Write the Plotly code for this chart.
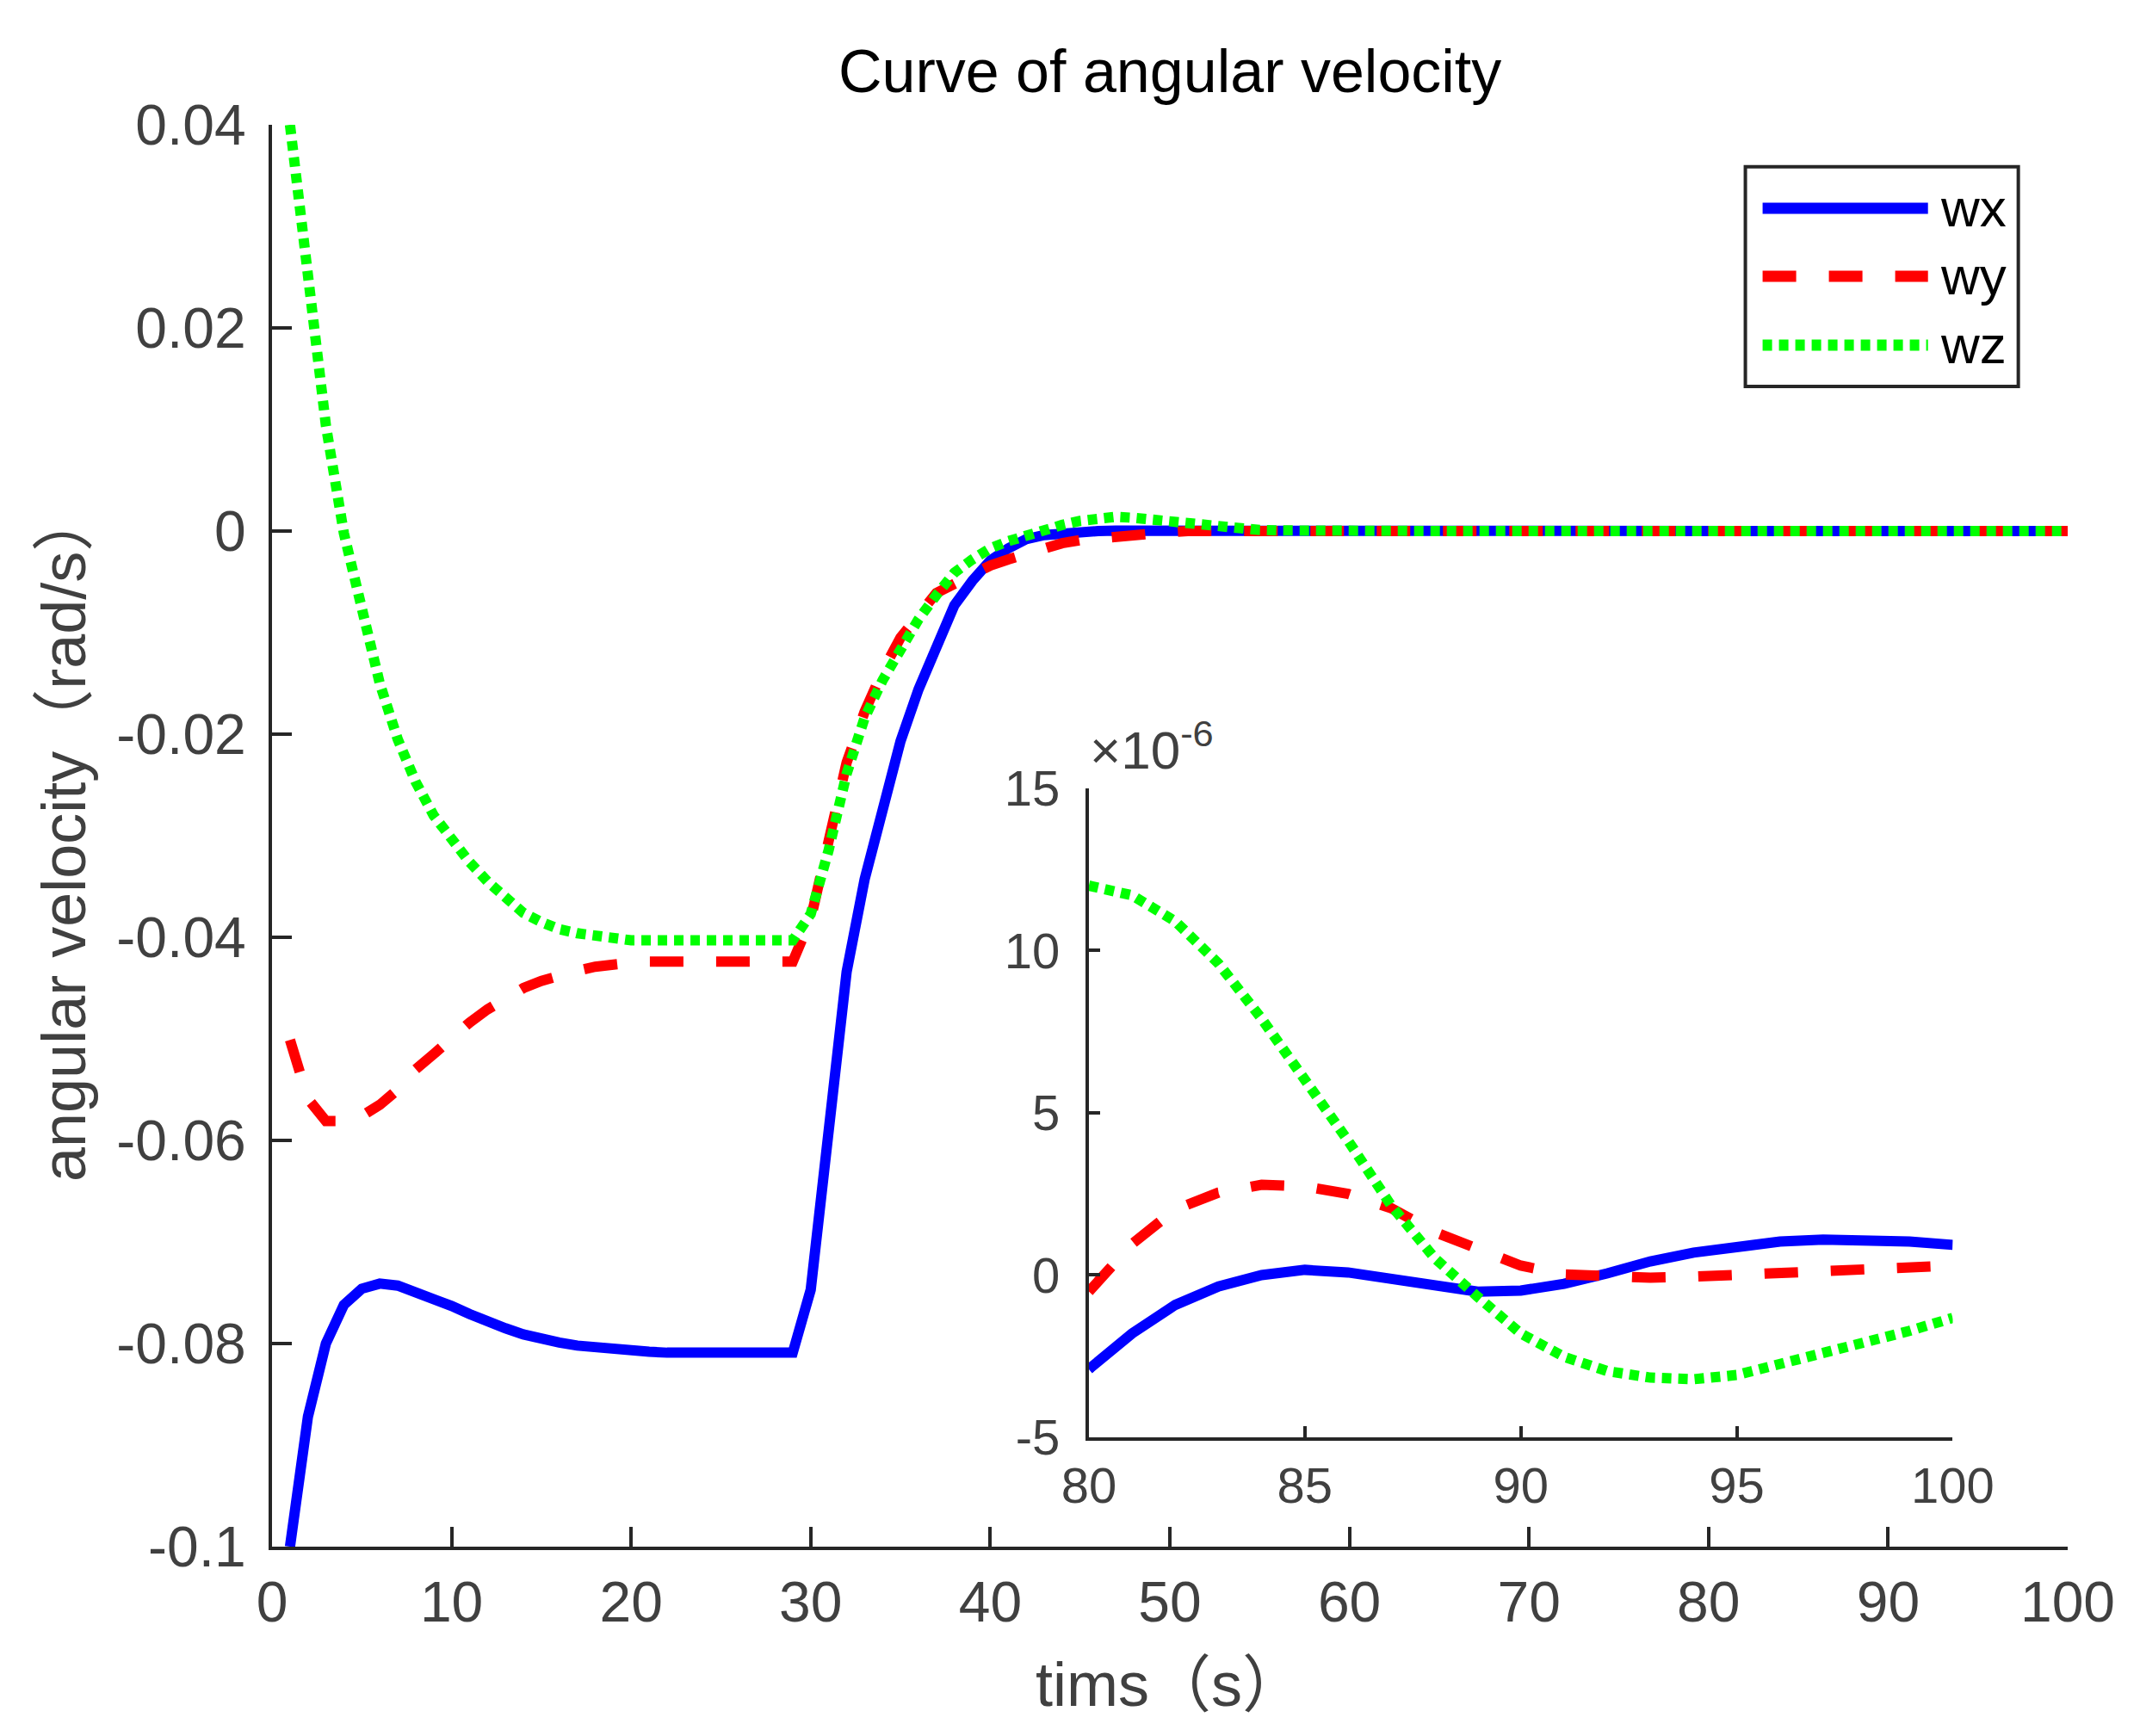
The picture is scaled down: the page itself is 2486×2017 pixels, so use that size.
import plotly.graph_objects as go

# time in seconds, one sample per second
TIME = list(range(1, 101))

# angular velocity (rad/s) for t = 1..79
WX_EARLY = [-0.1000, -0.0872, -0.0800, -0.0762, -0.0746, -0.0741, -0.0743, -0.0749, -0.0756, -0.0763,
            -0.0771, -0.0779, -0.0785, -0.0791, -0.0796, -0.0799, -0.0802, -0.0804, -0.0806, -0.0808,
            -0.0808, -0.0809, -0.0809, -0.0809, -0.0809, -0.0809, -0.0809, -0.0809, -0.0809, -0.0747,
            -0.0583, -0.0434, -0.0343, -0.0271, -0.0207, -0.0156, -0.0114, -0.0073, -0.0049, -0.0029,
            -0.0017, -0.0008, -0.0004, -0.0002, -0.0001, 0.0, 0.00004, 0.00007, 0.00008, 0.00008,
            0.00007, 0.00006, 0.00005, 0.00004, 0.00003, 0.00002, 0.000012, 0.000006, 0.000002, -0.000002,
            -0.000004, -0.000006, -0.000007, -0.000007, -0.000006, -0.000005, -0.000003, -0.000001, 0.000001, 0.000002,
            0.000003, 0.000003, 0.000002, 0.000001, 0.0, -0.000001, -0.000002, -0.000003, -0.0000033]
WY_EARLY = [-0.0501, -0.0559, -0.0581, -0.0581, -0.0576, -0.0565, -0.0550, -0.0530, -0.0515, -0.0499,
            -0.0484, -0.0471, -0.0460, -0.0450, -0.0443, -0.0437, -0.0433, -0.0429, -0.0426, -0.0425,
            -0.0424, -0.0424, -0.0424, -0.0424, -0.0424, -0.0424, -0.0424, -0.0424, -0.0424, -0.0382,
            -0.0308, -0.0228, -0.0178, -0.0138, -0.0105, -0.0083, -0.0061, -0.0052, -0.0043, -0.0034,
            -0.0028, -0.0022, -0.0017, -0.0012, -0.0009, -0.0007, -0.0005, -0.0003, -0.0002, -0.0001,
            0.0, 0.00002, 0.00003, 0.00004, 0.00004, 0.00003, 0.00002, 0.000012, 0.000006, 0.000002,
            -0.000001, -0.000003, -0.000004, -0.000004, -0.000003, -0.000002, 0.0, 0.000002, 0.000003, 0.000004,
            0.000004, 0.000003, 0.000002, 0.0, -0.000001, -0.000002, -0.000002, -0.0000018, -0.0000013]
WZ_EARLY = [0.0400, 0.0241, 0.0104, -0.0002, -0.0079, -0.0150, -0.0205, -0.0247, -0.0280, -0.0305,
            -0.0326, -0.0345, -0.0362, -0.0376, -0.0385, -0.0392, -0.0396, -0.0399, -0.0401, -0.0403,
            -0.0403, -0.0403, -0.0403, -0.0403, -0.0403, -0.0403, -0.0403, -0.0403, -0.0403, -0.0377,
            -0.0314, -0.0239, -0.0184, -0.0147, -0.0116, -0.0087, -0.0063, -0.0041, -0.0028, -0.0017,
            -0.0010, -0.0004, 0.0002, 0.0006, 0.0010, 0.0013, 0.0014, 0.0013, 0.0011, 0.0009,
            0.0007, 0.0005, 0.0003, 0.0002, 0.0001, 0.00006, 0.00003, 0.00001, -0.000005, -0.000012,
            -0.000016, -0.000018, -0.000017, -0.000015, -0.000011, -0.000007, -0.000003, 0.000001, 0.000004, 0.000007,
            0.000009, 0.000011, 0.000012, 0.000013, 0.000013, 0.0000128, 0.0000125, 0.0000122, 0.0000121]

# t = 80..100, in units of 1e-6 rad/s (zoomed inset)
WX_LATE = [-2.9, -1.8, -0.92, -0.35, 0.0, 0.16, 0.08, -0.11, -0.32, -0.51, -0.48,
           -0.27, 0.05, 0.42, 0.69, 0.90, 1.03, 1.09, 1.09, 1.03, 0.93]
WY_LATE = [-0.51, 0.96, 2.02, 2.54, 2.78, 2.73, 2.50, 2.06, 1.33, 0.77, 0.29,
           0.02, -0.06, -0.08, -0.05, 0.0, 0.08, 0.16, 0.21, 0.26, 0.29]
WZ_LATE = [12.0, 11.7, 10.9, 9.6, 7.9, 6.07, 4.14, 2.14, 0.53, -0.67, -1.8,
           -2.52, -2.96, -3.16, -3.21, -3.08, -2.76, -2.41, -2.04, -1.72, -1.32]

NAMES = ["wx", "wy", "wz"]
COLORS = ["#0000FF", "#FF0000", "#00FF00"]
DASHES = ["solid", "39px,38px", "11px,8px"]

MAIN_XTICKS = [0, 10, 20, 30, 40, 50, 60, 70, 80, 90, 100]
MAIN_YTICKS = [-0.1, -0.08, -0.06, -0.04, -0.02, 0, 0.02, 0.04]
MAIN_YLABELS = ["-0.1", "-0.08", "-0.06", "-0.04", "-0.02", "0", "0.02", "0.04"]
INSET_XTICKS = [80, 85, 90, 95, 100]
INSET_YTICKS = [-5, 0, 5, 10, 15]

FONT = "Liberation Sans, Arial, Noto Sans CJK SC"
TICK_COLOR = "#404040"
AXIS_COLOR = "#262626"

late_start = TIME.index(80)
late_time = TIME[late_start:]
series = []
for early, late in [(WX_EARLY, WX_LATE), (WY_EARLY, WY_LATE), (WZ_EARLY, WZ_LATE)]:
    series.append(early + [v * 1e-6 for v in late])

fig = go.Figure()

# main plot
for i in range(3):
    fig.add_trace(go.Scatter(x=TIME, y=series[i], mode="lines", name=NAMES[i],
                             line=dict(color=COLORS[i], width=12, dash=DASHES[i]),
                             showlegend=False, xaxis="x", yaxis="y"))

# zoomed inset, t >= 80
for i in range(3):
    fig.add_trace(go.Scatter(x=late_time, y=series[i][late_start:], mode="lines", name=NAMES[i],
                             line=dict(color=COLORS[i], width=12, dash=DASHES[i]),
                             showlegend=False, xaxis="x2", yaxis="y2"))

axis_common = dict(showline=True, linecolor=AXIS_COLOR, linewidth=4, ticks="inside",
                   tickcolor=AXIS_COLOR, tickwidth=4, showgrid=False, zeroline=False)
main_font = dict(family=FONT, size=66, color=TICK_COLOR)
inset_font = dict(family=FONT, size=58, color=TICK_COLOR)

fig.update_layout(
    width=2486, height=2017,
    margin=dict(l=308, r=92, t=137, b=228),
    paper_bgcolor="white", plot_bgcolor="white",
    title=dict(text="Curve of angular velocity", x=0.5435, xanchor="center",
               y=0.963, yanchor="middle", font=dict(family=FONT, size=70, color="black")),
    xaxis=dict(domain=[0, 1], range=[0, 100], tickvals=MAIN_XTICKS, ticklen=23,
               ticklabelstandoff=4, tickfont=main_font, **axis_common),
    yaxis=dict(domain=[0, 1], range=[-0.1, 0.04], tickvals=MAIN_YTICKS, ticktext=MAIN_YLABELS,
               ticklen=23, ticklabelstandoff=13, tickfont=main_font, **axis_common),
    xaxis2=dict(domain=[0.4549, 0.9360], range=[80, 100], tickvals=INSET_XTICKS, anchor="y2",
                ticklen=13, ticklabelstandoff=2, tickfont=inset_font, **axis_common),
    yaxis2=dict(domain=[0.0769, 0.5334], range=[-5e-6, 15e-6], anchor="x2",
                tickvals=[v * 1e-6 for v in INSET_YTICKS], ticktext=[str(v) for v in INSET_YTICKS],
                ticklen=13, ticklabelstandoff=18, tickfont=inset_font, **axis_common),
)

# axis labels
fig.add_annotation(text="tims（s）", xref="paper", yref="paper", x=0.5, y=-0.097,
                   xanchor="center", yanchor="middle", showarrow=False,
                   font=dict(family=FONT, size=72, color=TICK_COLOR))
fig.add_annotation(text="angular velocity（rad/s）", xref="paper", yref="paper", x=-0.116, y=0.5,
                   xanchor="center", yanchor="middle", showarrow=False, textangle=-90,
                   font=dict(family=FONT, size=72, color=TICK_COLOR))
# exponent of the inset y axis
fig.add_annotation(text="×10<sup>-6</sup>", xref="paper", yref="paper", x=0.4545, y=0.538,
                   xanchor="left", yanchor="bottom", showarrow=False,
                   font=dict(family=FONT, size=62, color=TICK_COLOR))

# legend box drawn by hand so the sample lines are long like the original
fig.add_shape(type="rect", xref="paper", yref="paper", x0=0.8205, x1=0.9725, y0=0.8160, y1=0.9705,
              line=dict(color=AXIS_COLOR, width=4), fillcolor="white")
legend_rows = [0.9413, 0.8935, 0.8451]
for i in range(3):
    fig.add_shape(type="line", xref="paper", yref="paper", x0=0.8301, x1=0.9222,
                  y0=legend_rows[i], y1=legend_rows[i],
                  line=dict(color=COLORS[i], width=13, dash=DASHES[i]))
    fig.add_annotation(text=NAMES[i], xref="paper", yref="paper", x=0.9280, y=legend_rows[i],
                       xanchor="left", yanchor="middle", showarrow=False,
                       font=dict(family=FONT, size=62, color="black"))

fig.write_html("out.html")
